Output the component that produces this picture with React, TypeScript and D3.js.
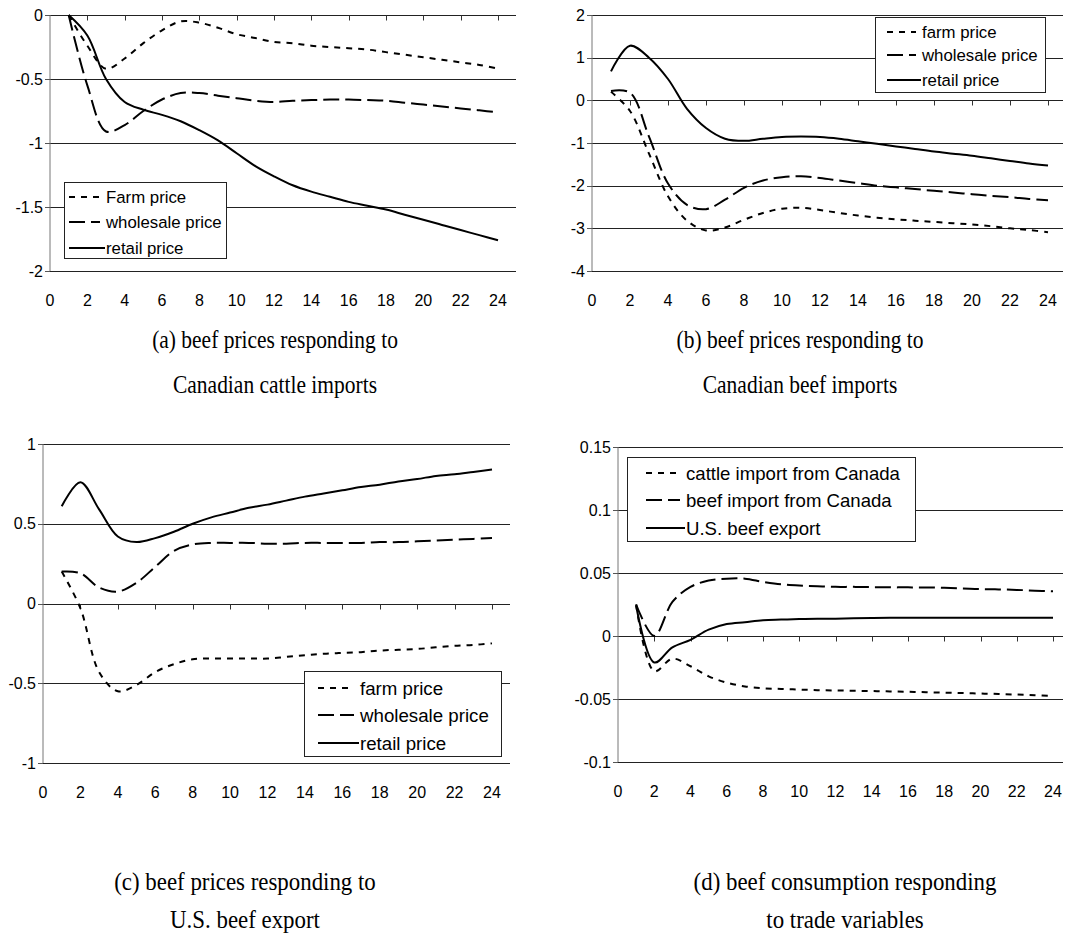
import * as d3 from 'd3';
import React from 'react';

// periods after the shock
const periods = [1, 2, 3, 4, 5, 6, 7, 8, 9, 10, 11, 12, 13, 14, 15, 16, 17, 18, 19, 20, 21, 22, 23, 24];
const xTicks = [0, 2, 4, 6, 8, 10, 12, 14, 16, 18, 20, 22, 24];

// (a) beef prices responding to Canadian cattle imports
const farmA = [0, -0.24, -0.42, -0.34, -0.22, -0.12, -0.05, -0.06, -0.1, -0.15, -0.18, -0.21, -0.22, -0.24, -0.25, -0.26, -0.27, -0.29, -0.31, -0.33, -0.35, -0.37, -0.39, -0.42];
const wholesaleA = [0, -0.55, -0.91, -0.86, -0.75, -0.66, -0.61, -0.61, -0.63, -0.65, -0.67, -0.68, -0.67, -0.665, -0.66, -0.66, -0.665, -0.67, -0.685, -0.7, -0.715, -0.73, -0.745, -0.76];
const retailA = [0, -0.16, -0.5, -0.68, -0.74, -0.78, -0.83, -0.9, -0.98, -1.08, -1.18, -1.26, -1.33, -1.38, -1.42, -1.46, -1.49, -1.52, -1.56, -1.6, -1.64, -1.68, -1.72, -1.76];
const yTicksA = [0, -0.5, -1, -1.5, -2];

// (b) beef prices responding to Canadian beef imports
const farmB = [0.2, -0.25, -1.25, -2.25, -2.82, -3.05, -2.98, -2.8, -2.64, -2.54, -2.52, -2.57, -2.64, -2.7, -2.75, -2.79, -2.82, -2.85, -2.88, -2.91, -2.95, -3.0, -3.04, -3.09];
const wholesaleB = [0.22, 0.18, -0.85, -1.95, -2.45, -2.55, -2.33, -2.05, -1.88, -1.8, -1.78, -1.82, -1.88, -1.94, -2.0, -2.04, -2.08, -2.12, -2.16, -2.2, -2.24, -2.27, -2.31, -2.34];
const retailB = [0.68, 1.28, 1.0, 0.5, -0.2, -0.65, -0.9, -0.95, -0.9, -0.86, -0.85, -0.86, -0.9, -0.96, -1.02, -1.08, -1.14, -1.2, -1.25, -1.3, -1.36, -1.42, -1.48, -1.53];
const yTicksB = [2, 1, 0, -1, -2, -3, -4];

// (c) beef prices responding to U.S. beef export
const farmC = [0.2, -0.03, -0.43, -0.55, -0.51, -0.43, -0.38, -0.35, -0.345, -0.345, -0.345, -0.345, -0.335, -0.325, -0.315, -0.31, -0.305, -0.295, -0.29, -0.285, -0.275, -0.265, -0.26, -0.25];
const wholesaleC = [0.2, 0.19, 0.1, 0.075, 0.13, 0.23, 0.33, 0.37, 0.38, 0.38, 0.38, 0.375, 0.375, 0.38, 0.38, 0.38, 0.38, 0.385, 0.385, 0.39, 0.395, 0.4, 0.405, 0.41];
const retailC = [0.61, 0.76, 0.59, 0.42, 0.385, 0.41, 0.45, 0.5, 0.54, 0.57, 0.6, 0.62, 0.645, 0.67, 0.69, 0.71, 0.73, 0.745, 0.765, 0.78, 0.8, 0.81, 0.825, 0.84];
const yTicksC = [1, 0.5, 0, -0.5, -1];

// (d) beef consumption responding to trade variables
const cattleD = [0.025, -0.028, -0.018, -0.024, -0.032, -0.037, -0.04, -0.0415, -0.042, -0.0425, -0.043, -0.0432, -0.0435, -0.0437, -0.044, -0.0443, -0.0446, -0.045, -0.0453, -0.0457, -0.046, -0.0465, -0.047, -0.0475];
const beefImportD = [0.025, 0.0, 0.027, 0.039, 0.044, 0.0455, 0.0455, 0.043, 0.041, 0.04, 0.0395, 0.039, 0.039, 0.0388, 0.0386, 0.0386, 0.0385, 0.0383, 0.0378, 0.0372, 0.037, 0.0366, 0.036, 0.0355];
const exportD = [0.024, -0.021, -0.009, -0.003, 0.005, 0.0095, 0.011, 0.0125, 0.013, 0.0134, 0.0136, 0.0137, 0.014, 0.0143, 0.0144, 0.0145, 0.0145, 0.0145, 0.0145, 0.0145, 0.0145, 0.0145, 0.0145, 0.0145];
const yTicksD = [0.15, 0.1, 0.05, 0, -0.05, -0.1];

const dashes: Record<string, string | undefined> = {
  dot: '6,6',
  dash: '16,6',
  solid: undefined,
};

type Style = 'dot' | 'dash' | 'solid';

interface Series {
  name: string;
  values: number[];
  style: Style;
}

interface Layout {
  left: number;
  right: number;
  gridEnd: number;
  top: number;
  bottom: number;
  legend: { x: number; y: number; w: number; h: number; rows: number[]; sampleX: number; textX: number; size: number };
}

const sans = 'Liberation Sans, Arial, sans-serif';

const Panel: React.FC<{ layout: Layout; yTicks: number[]; series: Series[] }> = ({ layout, yTicks, series }) => {
  const x = d3.scaleLinear().domain([0, 24]).range([layout.left, layout.right]);
  const y = d3
    .scaleLinear()
    .domain([yTicks[yTicks.length - 1], yTicks[0]])
    .range([layout.bottom, layout.top]);
  const line = d3
    .line<number>()
    .x((_, i) => x(periods[i]))
    .y((d) => y(d))
    .curve(d3.curveCatmullRom.alpha(0.5));
  const y0 = Math.round(y(0)) + 0.5;
  const lg = layout.legend;

  return (
    <g>
      {yTicks.map((t) => (
        <line key={'g' + t} x1={layout.left} x2={layout.gridEnd} y1={Math.round(y(t)) + 0.5} y2={Math.round(y(t)) + 0.5} stroke='#222' />
      ))}
      <line x1={layout.left} x2={layout.left} y1={layout.top} y2={layout.bottom} stroke='#777' />
      {yTicks.map((t) => (
        <g key={'t' + t}>
          <line x1={layout.left - 5} x2={layout.left} y1={Math.round(y(t)) + 0.5} y2={Math.round(y(t)) + 0.5} stroke='#555' />
          <text x={layout.left - 7} y={y(t) + 5.5} textAnchor='end' fontSize={16} fontFamily={sans}>
            {t}
          </text>
        </g>
      ))}
      {xTicks.map((t) => (
        <g key={'x' + t}>
          {t > 0 && <line x1={Math.round(x(t)) + 0.5} x2={Math.round(x(t)) + 0.5} y1={y0} y2={y0 + 5} stroke='#333' />}
          <text x={x(t)} y={layout.bottom + 35} textAnchor='middle' fontSize={16} fontFamily={sans}>
            {t}
          </text>
        </g>
      ))}
      {series.map((s) => (
        <path key={s.name} d={line(s.values) ?? ''} fill='none' stroke='#000' strokeWidth={2} strokeDasharray={dashes[s.style]} />
      ))}
      <rect x={lg.x + 0.5} y={lg.y + 0.5} width={lg.w} height={lg.h} fill='#fff' stroke='#222' />
      {series.map((s, i) => (
        <g key={'l' + s.name}>
          <line
            x1={lg.sampleX}
            x2={s.style === 'solid' ? lg.textX - 1 : lg.textX - 6}
            y1={lg.rows[i]}
            y2={lg.rows[i]}
            stroke='#000'
            strokeWidth={2}
            strokeDasharray={dashes[s.style]}
          />
          <text x={lg.textX} y={lg.rows[i] + lg.size * 0.36} fontSize={lg.size} fontFamily={sans}>
            {s.name}
          </text>
        </g>
      ))}
    </g>
  );
};

const layoutA: Layout = {
  left: 50, right: 498, gridEnd: 516, top: 15, bottom: 271,
  legend: { x: 64, y: 182, w: 162, h: 76, rows: [197, 222, 248], sampleX: 69, textX: 106, size: 16.8 },
};
const layoutB: Layout = {
  left: 592, right: 1048, gridEnd: 1063, top: 15, bottom: 271,
  legend: { x: 875, y: 17, w: 170, h: 75, rows: [32, 55, 80], sampleX: 887, textX: 922, size: 16.8 },
};
const layoutC: Layout = {
  left: 43, right: 492, gridEnd: 510, top: 444, bottom: 763,
  legend: { x: 304, y: 671, w: 197, h: 85, rows: [688, 715, 743], sampleX: 318, textX: 360, size: 18.7 },
};
const layoutD: Layout = {
  left: 618, right: 1053, gridEnd: 1063, top: 447, bottom: 762,
  legend: { x: 627, y: 457, w: 288, h: 84, rows: [473, 500, 528], sampleX: 646, textX: 686, size: 18.6 },
};

const captionFont = 'Liberation Serif, Times New Roman, serif';

const Caption: React.FC<{ cx: number; y1: number; y2: number; lines: string[]; size: number; squeeze: number }> = ({
  cx,
  y1,
  y2,
  lines,
  size,
  squeeze,
}) => (
  <g fontFamily={captionFont} fontSize={size} textAnchor='middle'>
    <text transform={`translate(${cx},${y1}) scale(${squeeze},1)`}>{lines[0]}</text>
    <text transform={`translate(${cx},${y2}) scale(${squeeze},1)`}>{lines[1]}</text>
  </g>
);

export default function App() {
  return (
    <svg width={1084} height={937} style={{ position: 'absolute', left: 0, top: 0, background: '#fff' }}>
      <Panel
        layout={layoutA}
        yTicks={yTicksA}
        series={[
          { name: 'Farm price', values: farmA, style: 'dot' },
          { name: 'wholesale price', values: wholesaleA, style: 'dash' },
          { name: 'retail price', values: retailA, style: 'solid' },
        ]}
      />
      <Panel
        layout={layoutB}
        yTicks={yTicksB}
        series={[
          { name: 'farm price', values: farmB, style: 'dot' },
          { name: 'wholesale price', values: wholesaleB, style: 'dash' },
          { name: 'retail price', values: retailB, style: 'solid' },
        ]}
      />
      <Panel
        layout={layoutC}
        yTicks={yTicksC}
        series={[
          { name: 'farm price', values: farmC, style: 'dot' },
          { name: 'wholesale price', values: wholesaleC, style: 'dash' },
          { name: 'retail price', values: retailC, style: 'solid' },
        ]}
      />
      <Panel
        layout={layoutD}
        yTicks={yTicksD}
        series={[
          { name: 'cattle import from Canada', values: cattleD, style: 'dot' },
          { name: 'beef import from Canada', values: beefImportD, style: 'dash' },
          { name: 'U.S. beef export', values: exportD, style: 'solid' },
        ]}
      />
      <Caption cx={275} y1={348} y2={393} size={25} squeeze={0.86} lines={['(a) beef prices responding to', 'Canadian cattle imports']} />
      <Caption cx={800} y1={348} y2={393} size={25} squeeze={0.86} lines={['(b) beef prices responding to', 'Canadian beef imports']} />
      <Caption cx={245} y1={890} y2={928} size={26} squeeze={0.88} lines={['(c) beef prices responding to', 'U.S. beef export']} />
      <Caption cx={845} y1={890} y2={928} size={26} squeeze={0.88} lines={['(d) beef consumption responding', 'to trade variables']} />
    </svg>
  );
}
